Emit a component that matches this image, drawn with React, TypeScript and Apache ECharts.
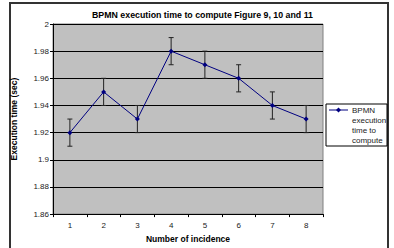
import React, { useEffect, useRef } from "react";
import * as echarts from "echarts";

const categories = ["1", "2", "3", "4", "5", "6", "7", "8"];
const execTimes = [1.92, 1.95, 1.93, 1.98, 1.97, 1.96, 1.94, 1.93];
const errorMargins = [0.01, 0.01, 0.01, 0.01, 0.01, 0.01, 0.01, 0.01];
const legendLines = ["BPMN", "execution", "time to", "compute"];

const FONT = "'Liberation Sans', Arial, sans-serif";

export default function App() {
  const ref = useRef<HTMLDivElement>(null);

  useEffect(() => {
    if (!ref.current) return;
    const chart = echarts.init(ref.current, undefined, { renderer: "svg" });

    const errorData = execTimes.map((v, i) => [i, v - errorMargins[i], v + errorMargins[i]]);

    chart.setOption({
      animation: false,
      backgroundColor: "#ffffff",
      textStyle: { fontFamily: FONT },
      title: {
        text: "BPMN execution time to compute Figure 9, 10 and 11",
        left: 87,
        top: 5,
        textStyle: { fontFamily: FONT, fontSize: 8.8, fontWeight: "bold", color: "#000" },
      },
      grid: {
        left: 53,
        top: 24,
        right: 71,
        bottom: 25,
        show: true,
        backgroundColor: "#c0c0c0",
        borderColor: "#808080",
        borderWidth: 1,
      },
      xAxis: {
        type: "category",
        data: categories,
        boundaryGap: true,
        name: "Number of incidence",
        nameLocation: "middle",
        nameGap: 17,
        nameTextStyle: { fontFamily: FONT, fontSize: 8.5, fontWeight: "bold", color: "#000" },
        axisLine: { lineStyle: { color: "#000", width: 1 } },
        axisTick: { show: true, interval: 0, length: 3, lineStyle: { color: "#000" } },
        axisLabel: { margin: 7, fontFamily: FONT, fontSize: 8, color: "#222" },
        splitLine: { show: false },
      },
      yAxis: {
        type: "value",
        min: 1.86,
        max: 2,
        interval: 0.02,
        name: "Execution time (sec)",
        nameLocation: "middle",
        nameGap: 35,
        nameTextStyle: { fontFamily: FONT, fontSize: 8.5, fontWeight: "bold", color: "#000" },
        axisLine: { show: true, lineStyle: { color: "#000", width: 1 } },
        axisTick: { show: true, length: 3, lineStyle: { color: "#000" } },
        axisLabel: { margin: 4, fontFamily: FONT, fontSize: 8, color: "#222" },
        splitLine: { show: true, lineStyle: { color: "#000", width: 1 } },
      },
      series: [
        {
          type: "custom",
          name: "error",
          data: errorData,
          encode: { x: 0, y: [1, 2] },
          z: 2,
          renderItem: (params: any, api: any) => {
            const idx = api.value(0);
            const lo = api.coord([idx, api.value(1)]);
            const hi = api.coord([idx, api.value(2)]);
            const cap = 2.5;
            const style = { stroke: "#222", lineWidth: 1 };
            return {
              type: "group",
              children: [
                { type: "line", shape: { x1: lo[0], y1: lo[1], x2: hi[0], y2: hi[1] }, style },
                { type: "line", shape: { x1: lo[0] - cap, y1: lo[1], x2: lo[0] + cap, y2: lo[1] }, style },
                { type: "line", shape: { x1: hi[0] - cap, y1: hi[1], x2: hi[0] + cap, y2: hi[1] }, style },
              ],
            };
          },
        },
        {
          type: "line",
          name: "BPMN execution time to compute",
          data: execTimes,
          z: 3,
          symbol: "diamond",
          symbolSize: 5,
          lineStyle: { color: "#000080", width: 1 },
          itemStyle: { color: "#000080" },
        },
      ],
      graphic: [
        {
          type: "rect",
          shape: { x: 10, y: 3, width: 378, height: 260 },
          style: { fill: "none", stroke: "#333", lineWidth: 2 },
          silent: true,
        },
        {
          type: "rect",
          shape: { x: 326, y: 104, width: 61, height: 42 },
          style: { fill: "#fff", stroke: "#000", lineWidth: 1 },
        },
        {
          type: "line",
          shape: { x1: 329, y1: 110, x2: 348, y2: 110 },
          style: { stroke: "#000080", lineWidth: 1 },
        },
        {
          type: "polygon",
          shape: { points: [[338.5, 107.5], [341, 110], [338.5, 112.5], [336, 110]] },
          style: { fill: "#000080" },
        },
        ...legendLines.map((t, i) => ({
          type: "text",
          x: 352,
          y: 110 + i * 10,
          style: {
            text: t,
            fontFamily: FONT,
            fontSize: 8,
            fill: "#222",
            textVerticalAlign: "middle",
            verticalAlign: "middle",
          },
        })),
      ],
    });

    return () => chart.dispose();
  }, []);

  return (
    <div
      ref={ref}
      style={{ position: "fixed", left: 0, top: 0, width: 394, height: 248 }}
    />
  );
}
